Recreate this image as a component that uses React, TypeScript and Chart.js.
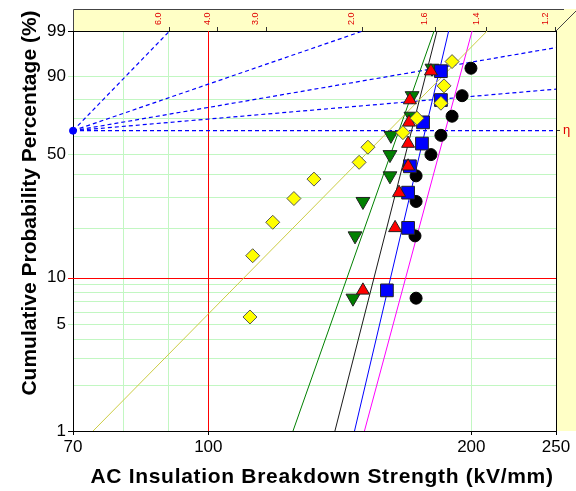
import React, { useEffect, useRef } from 'react';
import { Chart, registerables } from 'chart.js';

Chart.register(...registerables);

const FONT = '"Liberation Sans", Arial, Helvetica, sans-serif';

// ---------- axes / ticks ----------
const X_GRID = [70, 80, 90, 100, 200, 250];
const X_LABELS = [70, 100, 200, 250];
const X_RED_LINE = 100;
const Y_GRID_PCT = [1, 2, 3, 4, 5, 6, 7, 8, 9, 10, 20, 30, 40, 50, 60, 70, 80, 90, 99];
const Y_LABELS_PCT = [1, 5, 10, 50, 90, 99];
const Y_RED_LINE = 10;
const BETA_TICKS = [6.0, 4.0, 3.0, 2.0, 1.6, 1.4, 1.2];
const BETA_GUIDES = [6.0, 2.0, 1.0, 0.5, 0];
const POLE_KV = 70;
const POLE_PCT = 63.2;

// ---------- data series ----------
const YELLOW_KV = [111.6, 112.4, 118.5, 125.3, 132.1, 148.8, 152.3, 167.0, 173.3, 184.6, 186.1, 190.1];
const YELLOW_PCT = [5.6, 13.7, 21.8, 29.8, 37.9, 46.0, 54.0, 62.1, 70.2, 78.2, 86.3, 94.4];
const GREEN_KV = [146.4, 147.2, 150.3, 161.4, 161.4, 161.8, 170.6, 171.1, 180.3];
const GREEN_PCT = [7.4, 18.1, 28.7, 39.4, 50.0, 60.6, 71.3, 81.9, 92.6];
const RED_KV = [150.3, 163.6, 165.3, 169.3, 169.3, 169.7, 170.1, 179.8];
const RED_PCT = [8.3, 20.2, 32.1, 44.0, 56.0, 67.9, 79.8, 91.7];
const BLUE_KV = [160.1, 169.3, 169.3, 170.1, 175.6, 176.1, 184.6, 184.6];
const BLUE_PCT = [8.3, 20.2, 32.1, 44.0, 56.0, 67.9, 79.8, 91.7];
const BLACK_KV = [172.9, 172.4, 172.9, 172.9, 179.8, 184.6, 190.1, 195.2, 199.8];
const BLACK_PCT = [7.4, 18.1, 28.7, 39.4, 50.0, 60.6, 71.3, 81.9, 92.6];

// ---------- fitted lines (kV at 1 % and 99 %) ----------
const FIT_PCT = [1, 99];
const YELLOW_FIT_KV = [73.8, 208.5];
const GREEN_FIT_KV = [125.0, 181.3];
const BLACK_FIT_KV = [139.6, 182.7];
const BLUE_FIT_KV = [147.0, 188.4];
const MAGENTA_FIT_KV = [150.9, 200.4];

const X_TITLE = 'AC Insulation Breakdown Strength (kV/mm)';
const Y_TITLE = 'Cumulative Probability Percentage (%)';

const GRID_GREEN = '#c2f7c2';
const GRID_RED = '#ff0000';
const NONE = 'rgba(0,0,0,0)';

// Weibull probability transform
const wb = (p: number) => Math.log(-Math.log(1 - p / 100));
const X_MIN = 70;
const X_MAX = 250;
const W_MIN = wb(1);
const W_MAX = wb(99);
const near = (a: number, b: number) => Math.abs(a - b) < 1e-6;
const pctOf = (w: number) => Y_GRID_PCT.find((p) => near(wb(p), w));

const pts = (kv: number[], pct: number[]) => kv.map((x, i) => ({ x, y: wb(pct[i]) }));

function guideLine(beta: number) {
  const start = { x: POLE_KV, y: wb(POLE_PCT) };
  if (beta > 0) {
    const xTop = POLE_KV * Math.exp((W_MAX - start.y) / beta);
    if (xTop <= X_MAX) return [start, { x: xTop, y: W_MAX }];
  }
  return [start, { x: X_MAX, y: start.y + beta * Math.log(X_MAX / POLE_KV) }];
}

const decorPlugin = {
  id: 'decor',
  beforeDraw(chart: any) {
    const { ctx, chartArea: a, width } = chart;
    ctx.save();
    ctx.fillStyle = '#ffffc6';
    ctx.fillRect(a.left, 9, width - a.left, a.top - 9);
    ctx.fillRect(a.right, 9, width - a.right, a.bottom - 9);
    ctx.strokeStyle = '#444';
    ctx.lineWidth = 1;
    ctx.beginPath();
    ctx.moveTo(a.left + 0.5, a.top);
    ctx.lineTo(a.left + 0.5, 9.5);
    ctx.lineTo(width - 12, 9.5);
    ctx.moveTo(a.right, a.top);
    ctx.lineTo(width, a.top - 20);
    ctx.stroke();
    ctx.restore();
  },
  beforeDatasetsDraw(chart: any) {
    // red reference lines (10 % and 100 kV/mm), positioned through the scales
    const { ctx, chartArea: a, scales } = chart;
    const yPix = Math.round(scales.y.getPixelForValue(wb(Y_RED_LINE))) + 0.5;
    const xPix = Math.round(scales.x.getPixelForValue(X_RED_LINE)) + 0.5;
    ctx.save();
    ctx.strokeStyle = GRID_RED;
    ctx.lineWidth = 1;
    ctx.beginPath();
    ctx.moveTo(a.left - 5, yPix);
    ctx.lineTo(a.right, yPix);
    ctx.moveTo(xPix, a.top);
    ctx.lineTo(xPix, a.bottom);
    ctx.stroke();
    ctx.restore();
  },
  afterDraw(chart: any) {
    const { ctx } = chart;
    ctx.save();
    ctx.fillStyle = '#000';
    ctx.font = `bold 21px ${FONT}`;
    ctx.textAlign = 'center';
    ctx.textBaseline = 'alphabetic';
    try { (ctx as any).letterSpacing = '0.7px'; } catch (e) {}
    ctx.fillText(X_TITLE, 322, 483);
    try { (ctx as any).letterSpacing = '0px'; } catch (e) {}
    ctx.translate(36, 203);
    ctx.rotate(-Math.PI / 2);
    ctx.fillText(Y_TITLE, 0, 0);
    ctx.restore();
  },
};

export default function App() {
  const ref = useRef<HTMLCanvasElement>(null);

  useEffect(() => {
    if (!ref.current) return;

    const markers = (label: string, kv: number[], pct: number[], style: any, order: number) => ({
      label,
      data: pts(kv, pct),
      showLine: false,
      order,
      borderWidth: 1,
      ...style,
    });
    const fit = (label: string, kv: number[], color: string, order: number) => ({
      label,
      data: pts(kv, FIT_PCT),
      showLine: true,
      pointRadius: 0,
      borderColor: color,
      borderWidth: 1,
      fill: false,
      order,
    });

    const datasets: any[] = [
      markers('Yellow', YELLOW_KV, YELLOW_PCT, { pointStyle: 'rectRot', pointRadius: 7, backgroundColor: '#ffff00', borderColor: '#555555' }, 1),
      markers('Red', RED_KV, RED_PCT, { pointStyle: 'triangle', pointRadius: 7.5, backgroundColor: '#ff0000', borderColor: '#222222' }, 2),
      markers('Blue', BLUE_KV, BLUE_PCT, { pointStyle: 'rect', pointRadius: 9, backgroundColor: '#0000ff', borderColor: '#222222' }, 3),
      markers('Green', GREEN_KV, GREEN_PCT, { pointStyle: 'triangle', pointRotation: 180, pointRadius: 8, backgroundColor: '#008000', borderColor: '#222222' }, 4),
      markers('Black', BLACK_KV, BLACK_PCT, { pointStyle: 'circle', pointRadius: 6, backgroundColor: '#000000', borderColor: '#000000' }, 5),
      {
        label: 'Pole',
        data: [{ x: POLE_KV, y: wb(POLE_PCT) }],
        showLine: false,
        pointStyle: 'circle',
        pointRadius: 3.5,
        backgroundColor: '#0000ff',
        borderColor: '#0000ff',
        clip: false,
        order: 6,
      },
      fit('Yellow fit', YELLOW_FIT_KV, '#cccc44', 10),
      fit('Green fit', GREEN_FIT_KV, '#008000', 11),
      fit('Red fit', BLACK_FIT_KV, '#1a1a1a', 12),
      fit('Blue fit', BLUE_FIT_KV, '#0000ff', 13),
      fit('Black fit', MAGENTA_FIT_KV, '#ff00ff', 14),
      ...BETA_GUIDES.map((b, i) => ({
        label: 'beta ' + b,
        data: guideLine(b),
        showLine: true,
        pointRadius: 0,
        borderColor: '#0000ff',
        borderWidth: 1.2,
        borderDash: [4, 3],
        fill: false,
        order: 20 + i,
      })),
    ];

    const chart = new Chart(ref.current, {
      type: 'scatter',
      data: { datasets },
      plugins: [decorPlugin],
      options: {
        animation: false,
        responsive: false,
        devicePixelRatio: 1,
        layout: { padding: 0 },
        plugins: { legend: { display: false }, tooltip: { enabled: false } },
        events: [],
        scales: {
          x: {
            type: 'logarithmic',
            position: 'bottom',
            min: X_MIN,
            max: X_MAX,
            afterBuildTicks: (s: any) => { s.ticks = X_GRID.map((v) => ({ value: v })); },
            afterFit: (s: any) => { s.height = 60; },
            ticks: {
              autoSkip: false,
              maxRotation: 0,
              minRotation: 0,
              padding: 2,
              color: '#000',
              font: { family: FONT, size: 17 },
              callback: (v: any) => (X_LABELS.some((l) => near(l, Number(v))) ? String(Math.round(Number(v))) : ''),
            },
            grid: {
              color: (c: any) => (c.tick && near(c.tick.value, X_RED_LINE) ? NONE : GRID_GREEN),
              tickColor: (c: any) => (c.tick && X_LABELS.some((l) => near(l, c.tick.value)) ? '#000' : NONE),
              tickLength: 4,
              lineWidth: 1,
            },
            border: { color: '#000', width: 1 },
          },
          x2: {
            type: 'logarithmic',
            position: 'top',
            min: X_MIN,
            max: X_MAX,
            afterBuildTicks: (s: any) => {
              s.ticks = BETA_TICKS.map((b) => ({ value: POLE_KV * Math.exp((W_MAX - wb(POLE_PCT)) / b) }));
            },
            afterFit: (s: any) => { s.height = 31; },
            ticks: {
              autoSkip: false,
              minRotation: 90,
              maxRotation: 90,
              padding: 2,
              color: '#e00000',
              font: { family: FONT, size: 9 },
              callback: (_v: any, i: number) => BETA_TICKS[i].toFixed(1),
            },
            grid: { drawOnChartArea: false, tickLength: 4, tickColor: '#333' },
            border: { color: '#000', width: 1 },
          },
          y: {
            type: 'linear',
            position: 'left',
            min: W_MIN,
            max: W_MAX,
            afterBuildTicks: (s: any) => { s.ticks = Y_GRID_PCT.map((p) => ({ value: wb(p) })); },
            afterFit: (s: any) => { s.width = 73; },
            ticks: {
              autoSkip: false,
              padding: 2,
              color: '#000',
              font: { family: FONT, size: 17 },
              callback: (v: any) => {
                const p = pctOf(Number(v));
                return p !== undefined && Y_LABELS_PCT.includes(p) ? String(p) : '';
              },
            },
            grid: {
              color: (c: any) => (c.tick && pctOf(c.tick.value) === Y_RED_LINE ? NONE : GRID_GREEN),
              tickColor: (c: any) => {
                const p = c.tick ? pctOf(c.tick.value) : undefined;
                if (p === undefined || !Y_LABELS_PCT.includes(p) || p === Y_RED_LINE) return NONE;
                if (p === 1 || p === 99) return '#000';
                return GRID_GREEN;
              },
              tickLength: 5,
              lineWidth: 1,
            },
            border: { color: '#000', width: 1 },
          },
          y2: {
            type: 'linear',
            position: 'right',
            min: W_MIN,
            max: W_MAX,
            afterBuildTicks: (s: any) => { s.ticks = [{ value: wb(POLE_PCT) }]; },
            afterFit: (s: any) => { s.width = 20; },
            ticks: {
              autoSkip: false,
              padding: 3,
              color: '#e00000',
              font: { family: FONT, size: 13 },
              callback: () => 'η',
            },
            grid: { drawOnChartArea: false, tickLength: 4, tickColor: '#333' },
            border: { color: '#000', width: 1 },
          },
        },
      } as any,
    });

    return () => chart.destroy();
  }, []);

  return (
    <div style={{ position: 'absolute', left: 0, top: 0, width: 576, height: 491, background: '#fff' }}>
      <canvas ref={ref} width={576} height={491} style={{ display: 'block', width: 576, height: 491 }} />
    </div>
  );
}
